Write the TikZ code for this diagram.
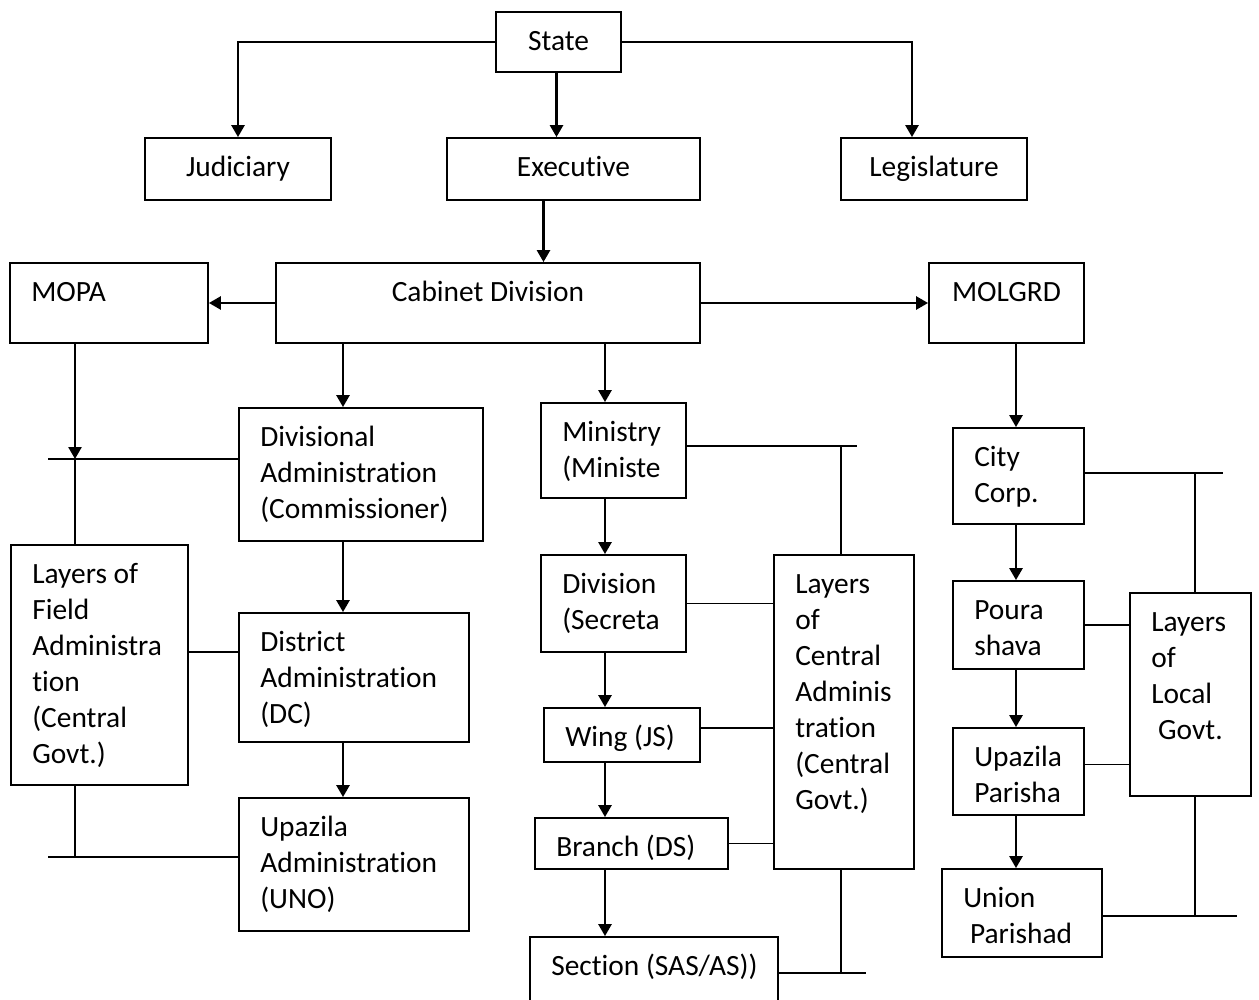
\documentclass[tikz,border=0pt]{standalone}
\usepackage{fontspec}
\setmainfont{Carlito}[Ligatures=NoCommon]
\usepackage{tikz}
\usetikzlibrary{fit}
\usetikzlibrary{arrows.meta,positioning}

\begin{document}
\begin{tikzpicture}[x=1pt,y=-1pt,
	box/.style={draw, line width=1.8pt, inner sep=0pt},
	txtc/.style={anchor=north, inner sep=0pt, font=\fontsize{29.4}{36}\selectfont, execute at begin node=\strut},
	txt/.style={txtc, anchor=north west, text width=220pt, align=flush left},
	arr/.style={line width=2.6pt, -{Triangle[length=12pt,width=13pt]}},
	ln/.style={line width=1.5pt}]
			\useasboundingbox[fill=white] (0,0) rectangle (1259,1000);
			\node[box, fit={(496,12) (621,72)}] (S) {};
			\node[box, fit={(145,138) (331,200)}] (J) {};
			\node[box, fit={(447,138) (700,200)}] (X) {};
			\node[box, fit={(841,138) (1027,200)}] (L) {};
			\node[box, fit={(276,263) (700,343)}] (C) {};
			\node[box, fit={(10,263) (208,343)}] (MO) {};
			\node[box, fit={(929,263) (1084,343)}] (ML) {};
			\node[box, fit={(239,408) (483,541)}] (DV) {};
			\node[box, fit={(239,613) (469,742)}] (DS) {};
			\node[box, fit={(239,798) (469,931)}] (UA) {};
			\node[box, fit={(11,545) (188,785)}] (LF) {};
			\node[box, fit={(541,403) (686,498)}] (MN) {};
			\node[box, fit={(541,555) (686,652)}] (DI) {};
			\node[box, fit={(544,708) (700,762)}] (W) {};
			\node[box, fit={(535,818) (728,869)}] (BR) {};
			\node[box, fit={(530,937) (778,1012)}] (SE) {};
			\node[box, fit={(774,555) (914,869)}] (LC) {};
			\node[box, fit={(953,428) (1084,524)}] (CC) {};
			\node[box, fit={(953,581) (1084,669)}] (PS) {};
			\node[box, fit={(953,728) (1084,815)}] (UP) {};
			\node[box, fit={(942,869) (1102,957)}] (UN) {};
			\node[box, fit={(1130,593) (1251,796)}] (LL) {};
			\node[txtc] (S-t) at ([shift={(0,14)}]S.north) {State};
			\node[txtc] (J-t) at ([shift={(0,14)}]J.north) {Judiciary};
			\node[txtc] (X-t) at ([shift={(0,14)}]X.north) {Executive};
			\node[txtc] (L-t) at ([shift={(0,14)}]L.north) {Legislature};
			\node[txtc] (C-t) at ([shift={(0,14)}]C.north) {Cabinet Division};
			\node[txt] (MO-t) at ([shift={(22,14)}]MO.north west) {MOPA};
			\node[txtc] (ML-t) at ([shift={(0,14)}]ML.north) {MOLGRD};
			\node[txt] (DV-t) at ([shift={(22,14)}]DV.north west) {Divisional\\Administration\\(Commissioner)};
			\node[txt] (DS-t) at ([shift={(22,14)}]DS.north west) {District\\Administration\\(DC)};
			\node[txt] (UA-t) at ([shift={(22,14)}]UA.north west) {Upazila\\Administration\\(UNO)};
			\node[txt] (LF-t) at ([shift={(22,14)}]LF.north west) {Layers of\\Field\\Administra\\tion\\(Central\\Govt.)};
			\node[txt] (MN-t) at ([shift={(22,14)}]MN.north west) {Ministry\\(Ministe};
			\node[txt] (DI-t) at ([shift={(22,14)}]DI.north west) {Division\\(Secreta};
			\node[txt] (W-t) at ([shift={(22,14)}]W.north west) {Wing (JS)};
			\node[txt] (BR-t) at ([shift={(22,14)}]BR.north west) {Branch (DS)};
			\node[txt] (SE-t) at ([shift={(22,14)}]SE.north west) {Section (SAS/AS))};
			\node[txt] (LC-t) at ([shift={(22,14)}]LC.north west) {Layers\\of\\Central\\Adminis\\tration\\(Central\\Govt.)};
			\node[txt] (CC-t) at ([shift={(22,14)}]CC.north west) {City\\Corp.};
			\node[txt] (PS-t) at ([shift={(22,14)}]PS.north west) {Poura\\shava};
			\node[txt] (UP-t) at ([shift={(22,14)}]UP.north west) {Upazila\\Parisha};
			\node[txt] (UN-t) at ([shift={(22,14)}]UN.north west) {Union\\\hspace*{0.23em}Parishad};
			\node[txt] (LL-t) at ([shift={(22,14)}]LL.north west) {Layers\\of\\Local\\\hspace*{0.23em}Govt.};
			\coordinate (k0) at (75,0);
			\coordinate (k1) at (343,0);
			\coordinate (k2) at (605,0);
			\coordinate (k3) at (1016,0);
			\coordinate (k4) at (841,0);
			\coordinate (k5) at (1195,0);
			\coordinate (b1) at (48,459);
			\coordinate (b2) at (48,857);
			\coordinate (b3) at (857,446);
			\coordinate (b4) at (866,973);
			\coordinate (b5) at (1223,473);
			\coordinate (b6) at (1237,916);
			\draw[arr] (S.west) -| (J.north);
			\draw[arr] (S.east) -| ([xshift=-22pt]L.north);
			\draw[arr] ([xshift=-2pt]S.south) -- ([xshift=-2pt]S.south |- X.north);
			\draw[arr] ([xshift=-30pt]X.south) -- ([xshift=-30pt]X.south |- C.north);
			\draw[arr] (C.west) -- (MO.east);
			\draw[arr] (C.east) -- (ML.west);
			\draw[arr] (C.south -| k1) -- (DV.north -| k1);
			\draw[arr] (DV.south -| k1) -- (DS.north -| k1);
			\draw[arr] (DS.south -| k1) -- (UA.north -| k1);
			\draw[arr] (MO.south -| k0) -- (b1 -| k0);
			\draw[ln] (b1) -- (b1 -| DV.west);
			\draw[ln] (b1 -| k0) -- (LF.north -| k0);
			\draw[ln] ([yshift=13pt]LF.east) -- ([yshift=13pt]LF.east -| DS.west);
			\draw[ln] (LF.south -| k0) -- (b2 -| k0);
			\draw[ln] (b2) -- (b2 -| UA.west);
			\draw[arr] (C.south -| k2) -- (MN.north -| k2);
			\draw[arr] (MN.south -| k2) -- (DI.north -| k2);
			\draw[arr] (DI.south -| k2) -- (W.north -| k2);
			\draw[arr] (W.south -| k2) -- (BR.north -| k2);
			\draw[arr] (BR.south -| k2) -- (SE.north -| k2);
			\draw[ln] (MN.east |- b3) -- (b3);
			\draw[ln] (b3 -| k4) -- (LC.north -| k4);
			\draw[ln] (DI.east) -- (DI.east -| LC.west);
			\draw[ln] ([yshift=7pt]W.east) -- ([yshift=7pt]W.east -| LC.west);
			\draw[ln] (BR.east) -- (BR.east -| LC.west);
			\draw[ln] (LC.south -| k4) -- (b4 -| k4);
			\draw[ln] (SE.east |- b4) -- (b4);
			\draw[arr] (ML.south -| k3) -- (CC.north -| k3);
			\draw[arr] (CC.south -| k3) -- (PS.north -| k3);
			\draw[arr] (PS.south -| k3) -- (UP.north -| k3);
			\draw[arr] (UP.south -| k3) -- (UN.north -| k3);
			\draw[ln] (CC.east |- b5) -- (b5);
			\draw[ln] (b5 -| k5) -- (LL.north -| k5);
			\draw[ln] (PS.east) -- (PS.east -| LL.west);
			\draw[ln] ([yshift=7pt]UP.east) -- ([yshift=7pt]UP.east -| LL.west);
			\draw[ln] (LL.south -| k5) -- (b6 -| k5);
			\draw[ln] (UN.east |- b6) -- (b6);
		\end{tikzpicture}
\end{document}
